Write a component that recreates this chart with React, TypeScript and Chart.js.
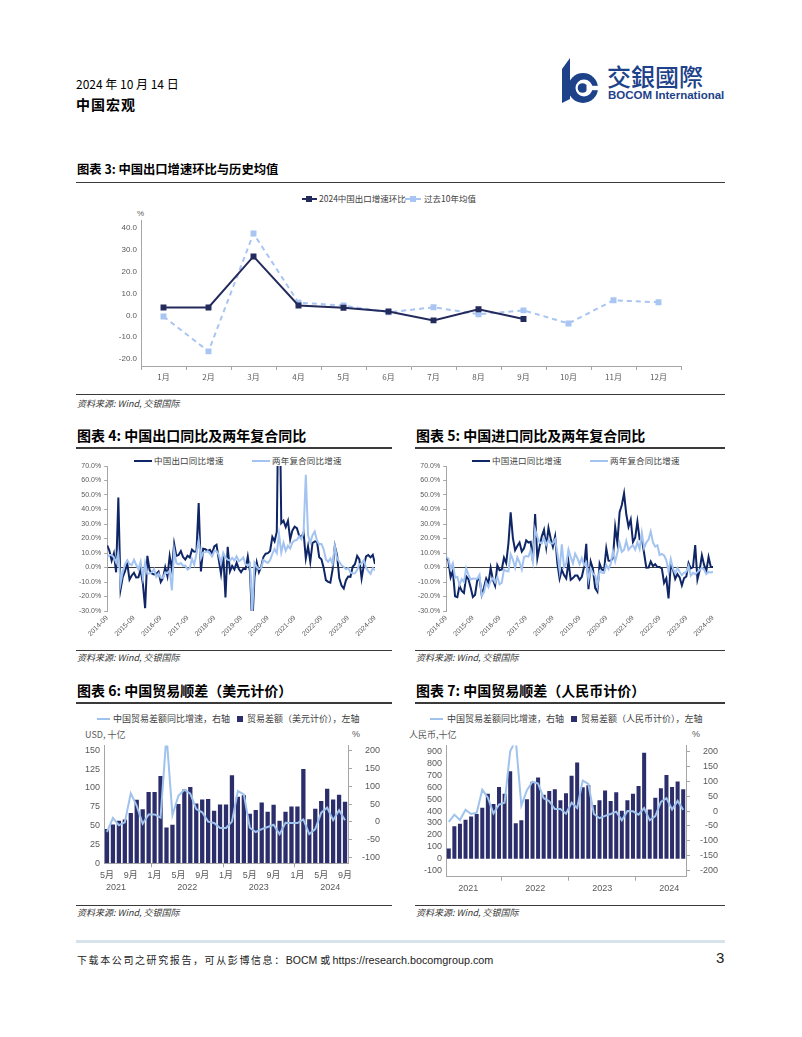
import React, { useEffect, useRef } from 'react';
import { Chart, registerables } from 'chart.js';

Chart.register(...registerables);

const CJK = "'Noto Sans CJK SC', 'Noto Sans', sans-serif";
const NUM = "'Liberation Sans', 'Noto Sans CJK SC', sans-serif";
Chart.defaults.font.family = CJK;

// ---------- colours ----------
const C3_DARK = '#232a5c';
const C3_LIGHT = '#a9c5f2';
const YOY_DARK = '#0e2566';
const YOY_LIGHT = '#a3c3f0';
const BAR_NAVY = '#2b2e6b';
const LINE_BLUE = '#9fc3ec';
const AXIS_GREY = '#a6a6a6';
const TICK_GREY = '#595959';
const LOGO_BLUE = '#1d4289';

// ---------- helpers ----------
const monthCategories = (startYear: number, startMonth: number, count: number): string[] => {
  const out: string[] = [];
  for (let i = 0; i < count; i++) {
    const t = startYear * 12 + (startMonth - 1) + i;
    const y = Math.floor(t / 12);
    const m = (t % 12) + 1;
    out.push(`${y}-${String(m).padStart(2, '0')}`);
  }
  return out;
};

// ========== 图表 3 ==========
const CH3_CATEGORIES = ['1月', '2月', '3月', '4月', '5月', '6月', '7月', '8月', '9月', '10月', '11月', '12月'];
const CH3_EXPORT_MOM_2024 = [3.6, 3.6, 27.0, 4.5, 3.5, 1.8, -2.3, 2.8, -1.7];
const CH3_EXPORT_MOM_10Y_AVG = [-0.5, -16.5, 37.5, 5.8, 4.5, 1.4, 3.7, 0.5, 2.3, -3.7, 6.9, 6.0];
const CH3_Y_TICKS = [-20, -10, 0, 10, 20, 30, 40];

// ========== 图表 4 / 5 ==========
const YOY_CATEGORIES = monthCategories(2014, 9, 121);
const YOY_X_TICK_LABELS = ['2014-09', '2015-09', '2016-09', '2017-09', '2018-09', '2019-09', '2020-09', '2021-09', '2022-09', '2023-09', '2024-09'];
const YOY_Y_TICKS = [-30, -20, -10, 0, 10, 20, 30, 40, 50, 60, 70];

const CH4_EXPORT_YOY = [
  15.3, 11.6, 4.7, 9.7,
  -3.3, 48.3, -15.0, -6.4, -2.5, 2.8, -8.3, -5.5, -3.7, -6.9, -6.8, -1.4,
  -11.2, -28.0, 8.0, -1.8, -4.1, -4.8, -4.4, -2.8, -10.0, -7.3, 0.1, -6.1,
  7.9, -1.3, 16.4, 8.0, 8.7, 11.3, 7.2, 5.5, 8.1, 6.9, 12.3, 10.9,
  11.1, 44.5, -2.7, 12.9, 12.6, 11.3, 12.2, 9.8, 14.5, 15.6, 5.4, -4.4,
  9.1, -20.7, 14.2, -2.7, 1.1, -1.3, 3.3, -1.0, -3.2, -0.9, -1.1, 7.6,
  -3.0, -40.6, -6.6, 3.5, -3.3, 0.5, 7.2, 9.5, 9.9, 11.4, 21.1, 18.1,
  24.7, 154.9, 30.6, 32.3, 27.9, 32.2, 19.3, 25.6, 28.1, 27.1, 22.0, 20.9,
  24.1, 6.2, 14.7, 3.9, 16.9, 17.9, 18.0, 7.1, 5.7, -0.3, -8.7, -9.9,
  -10.5, -1.3, 14.8, 8.5, -7.5, -12.4, -14.5, -8.8, -6.2, -6.4, 0.5, 2.3,
  8.0, 5.6, -7.5, 1.5, 7.6, 8.6, 7.0, 8.7, 2.4,
];
const CH4_EXPORT_2Y_CAGR = [
  7.2, 8.6, 8.6, 7.0,
  3.4, 10.2, -10.9, -2.8, 2.1, 5.0, 2.5, 1.7, 5.3, 1.9, -1.2, 4.0,
  -7.3, 3.3, -4.2, -4.1, -3.3, -1.1, -6.4, -4.2, -6.9, -7.1, -3.4, -3.8,
  -2.1, -15.7, 12.1, 3.0, 2.1, 3.0, 1.2, 1.3, -1.4, -0.5, 6.0, 2.0,
  9.5, 19.0, 6.4, 10.4, 10.6, 11.3, 9.7, 7.6, 11.3, 11.2, 8.8, 2.9,
  10.1, 7.0, 5.4, 4.8, 6.7, 4.8, 7.7, 4.3, 5.3, 7.0, 2.1, 1.4,
  2.8, -31.4, 3.2, 0.4, -1.1, -0.4, 5.2, 4.1, 3.1, 5.1, 9.4, 12.7,
  10.0, 23.0, 10.4, 17.0, 11.5, 15.1, 13.1, 17.3, 18.6, 19.0, 21.5, 19.5,
  24.4, 63.9, 22.4, 17.2, 22.3, 24.8, 18.6, 16.0, 16.3, 12.5, 5.5, 3.9,
  6.2, 2.4, 14.7, 6.2, 4.0, 1.6, 0.4, -1.2, -0.4, -3.4, -4.2, -4.0,
  -1.7, 2.1, 3.0, 5.0, -0.3, -2.5, -4.3, -0.4, -2.0,
];
const CH5_IMPORT_YOY = [
  7.0, 4.6, -6.7, -2.4,
  -19.9, -20.5, -12.7, -16.2, -17.6, -6.1, -8.1, -13.8, -20.4, -18.8, -8.7, -7.6,
  -18.8, -13.8, -7.6, -10.9, -0.4, -8.4, -12.5, 1.5, -1.9, -1.4, 6.7, 3.1,
  16.7, 38.1, 20.3, 11.9, 14.8, 17.2, 11.0, 13.3, 18.7, 17.2, 17.7, 4.5,
  36.9, 6.3, 14.4, 21.5, 26.0, 14.1, 27.3, 20.0, 14.3, 21.4, 3.0, -7.6,
  -1.5, -5.2, -7.6, 4.0, -8.5, -7.3, -5.6, -5.6, -8.5, -6.4, 0.3, 16.3,
  -15.0, 4.0, -0.9, -14.2, -16.7, 2.7, -1.4, -2.1, 13.2, 4.7, 4.5, 6.5,
  28.0, 17.0, 38.1, 43.1, 51.1, 36.7, 28.1, 33.1, 17.6, 20.6, 31.7, 19.5,
  20.0, 10.0, -0.1, 0.0, 4.1, 1.0, 2.3, 0.3, 0.3, -0.7, -10.6, -7.5,
  -21.3, 2.0, -1.4, -7.9, -4.5, -6.8, -12.4, -7.3, -6.2, 3.0, -0.6, 0.2,
  15.5, -8.2, -1.9, 8.4, 1.8, -2.3, 7.2, 0.5, 0.3,
];
const CH5_IMPORT_2Y_CAGR = [
  7.2, 6.1, -0.9, 2.8,
  -7.1, -6.4, -12.0, -8.1, -9.9, -0.5, -4.9, -8.3, -7.6, -7.8, -7.7, -5.0,
  -19.4, -17.2, -10.2, -13.6, -9.4, -7.3, -10.3, -6.4, -11.6, -10.5, -1.3, -2.4,
  -2.6, 9.1, 5.4, -0.2, 6.9, 3.6, -1.4, 7.2, 7.9, 7.5, 12.0, 3.8,
  26.3, 20.9, 17.3, 16.6, 20.2, 15.6, 18.8, 16.6, 16.5, 19.3, 10.1, -1.7,
  15.9, 0.4, 2.8, 12.4, 7.3, 2.8, 9.5, 6.4, 2.3, 6.5, 1.6, 3.6,
  -8.5, -0.7, -4.3, -5.5, -12.7, -2.4, -3.5, -3.9, 1.8, -1.0, 2.4, 11.3,
  4.2, 10.3, 16.9, 10.8, 12.2, 18.3, 12.2, 14.0, 15.4, 12.3, 17.2, 12.8,
  23.9, 13.5, 17.2, 19.2, 24.8, 17.3, 14.4, 15.3, 8.6, 9.4, 8.3, 5.1,
  -2.8, 5.9, -0.8, -4.0, -0.3, -2.9, -5.3, -3.5, -3.0, 1.1, -5.7, -3.7,
  -4.6, -3.2, -1.7, -0.1, -1.4, -4.6, -3.1, -3.4, -3.0,
];

// ========== 图表 6 ==========
const CH6_CATEGORIES = monthCategories(2021, 5, 41);
const CH6_BALANCE_USD = [
  45.5, 51.5, 56.6, 58.3, 66.8, 84.5, 71.7, 94.5,
  94.5, 115.9, 47.4, 51.1, 78.8, 97.9, 101.3, 79.4, 84.7, 85.2, 69.8, 78.0,
  78.0, 116.9, 88.2, 90.2, 65.8, 70.6, 80.6, 68.4, 77.7, 56.5, 68.4, 75.3,
  75.3, 125.2, 58.6, 72.4, 82.6, 99.1, 84.7, 91.0, 81.7,
];
const CH6_BALANCE_USD_YOY = [
  -28, 11, -9, -1, 80, 45, -5, 21,
  21, 12, 243, 19, 73, 90, 79, 36, 27, 1, -3, -17,
  -17, 1, 86, 77, -16, -28, -20, -14, -8, -34, -2, -3,
  -3, 7, -34, -20, 26, 40, 5, 33, 5,
];
const CH6_LEFT_TICKS = [0, 25, 50, 75, 100, 125, 150];
const CH6_RIGHT_TICKS = [-100, -50, 0, 50, 100, 150, 200];
const CH6_YEARS = ['2021', '2022', '2023', '2024'];

// ========== 图表 7 ==========
const CH7_CATEGORIES = monthCategories(2021, 3, 43);
const CH7_BALANCE_RMB = [
  87, 272, 294, 327, 354, 376, 428, 545, 460, 602,
  545, 733, 297, 322, 499, 646, 681, 537, 569, 583, 490, 550,
  695, 806, 599, 616, 450, 490, 572, 485, 558, 403, 490, 545,
  610, 888, 414, 512, 590, 703, 601, 648, 583,
];
const CH7_BALANCE_RMB_YOY = [
  -36, -12, -30, 4, -10, -6, 72, 45, -8, 22,
  28, 200, 238, 18, 70, 98, 92, 43, 33, 7, 7, -9,
  28, 10, 102, 91, -10, -24, -16, -10, -2, -31, 0, -1,
  -12, 10, -31, -17, 31, 43, 5, 34, 4,
];
const CH7_LEFT_TICKS = [-100, 0, 100, 200, 300, 400, 500, 600, 700, 800, 900];
const CH7_RIGHT_TICKS = [-200, -150, -100, -50, 0, 50, 100, 150, 200];
const CH7_YEARS = ['2021', '2022', '2023', '2024'];

// ---------- chart builders ----------
const setTicks = (values: number[]) => (axis: any) => {
  axis.ticks = values.map((v) => ({ value: v }));
};
const setWidth = (w: number) => (axis: any) => {
  axis.width = w;
};
const setHeight = (h: number) => (axis: any) => {
  axis.height = h;
};
const baseOptions = (padding: any) => ({
  animation: false,
  responsive: false,
  maintainAspectRatio: false,
  layout: { padding },
  plugins: { legend: { display: false }, tooltip: { enabled: false }, title: { display: false } },
});

const yearRowPlugin = (years: string[], y: number) => ({
  id: 'yearRow',
  afterDraw(chart: any) {
    const xs = chart.scales.x;
    const labels = chart.data.labels as string[];
    const ctx = chart.ctx;
    ctx.save();
    ctx.font = `9px ${NUM}`;
    ctx.fillStyle = TICK_GREY;
    ctx.textAlign = 'center';
    ctx.textBaseline = 'middle';
    years.forEach((yr) => {
      const i = labels.indexOf(`${yr}-06`);
      if (i >= 0) ctx.fillText(yr, xs.getPixelForValue(i + 0.5), y);
    });
    ctx.restore();
  },
});

const buildChart3 = () => ({
  type: 'line',
  data: {
    labels: CH3_CATEGORIES,
    datasets: [
      {
        label: '2024中国出口增速环比',
        data: CH3_EXPORT_MOM_2024,
        borderColor: C3_DARK,
        backgroundColor: C3_DARK,
        borderWidth: 2,
        pointStyle: 'rect',
        pointRadius: 4.2,
        pointBackgroundColor: C3_DARK,
        pointBorderColor: C3_DARK,
        pointBorderWidth: 0,
      },
      {
        label: '过去10年均值',
        data: CH3_EXPORT_MOM_10Y_AVG,
        borderColor: C3_LIGHT,
        backgroundColor: C3_LIGHT,
        borderDash: [5, 4],
        borderWidth: 2,
        pointStyle: 'rect',
        pointRadius: 4.2,
        pointBackgroundColor: C3_LIGHT,
        pointBorderColor: C3_LIGHT,
        pointBorderWidth: 0,
      },
    ],
  },
  options: {
    ...baseOptions({ top: 34, right: 45, left: 0, bottom: 0 }),
    scales: {
      x: {
        offset: true,
        grid: { display: true, offset: true, drawOnChartArea: false, drawTicks: true, tickLength: 4, color: AXIS_GREY },
        border: { display: true, color: AXIS_GREY },
        ticks: { padding: 2, maxRotation: 0, minRotation: 0, autoSkip: false, font: { size: 8, family: CJK }, color: TICK_GREY },
        afterFit: setHeight(24),
      },
      y: {
        min: -23.2,
        max: 43.7,
        afterBuildTicks: setTicks(CH3_Y_TICKS),
        afterFit: setWidth(65),
        grid: { display: false, drawTicks: false },
        border: { display: true, color: AXIS_GREY },
        ticks: { autoSkip: false, padding: 4, font: { size: 8, family: NUM }, color: TICK_GREY, callback: (v: any) => Number(v).toFixed(1) },
      },
    },
  },
});

const buildYoy = (darkData: number[], lightData: number[], rightPad: number) => () => ({
  type: 'line',
  data: {
    labels: YOY_CATEGORIES,
    datasets: [
      { data: darkData, borderColor: YOY_DARK, borderWidth: 2, pointRadius: 0, order: 2, clip: 0, tension: 0 },
      { data: lightData, borderColor: YOY_LIGHT, borderWidth: 2, pointRadius: 0, order: 1, clip: 0, tension: 0 },
    ],
  },
  options: {
    ...baseOptions({ top: 14, right: rightPad, left: 0, bottom: 0 }),
    scales: {
      x: {
        offset: false,
        grid: { display: false, drawTicks: false },
        border: { display: false },
        ticks: {
          autoSkip: false,
          maxRotation: 45,
          minRotation: 45,
          padding: 3,
          font: { size: 7, family: NUM },
          color: TICK_GREY,
          callback: (_v: any, i: number) => (YOY_X_TICK_LABELS.includes(YOY_CATEGORIES[i]) ? YOY_CATEGORIES[i] : ''),
        },
        afterFit: setHeight(36),
      },
      y: {
        min: -30,
        max: 70,
        afterBuildTicks: setTicks(YOY_Y_TICKS),
        grid: {
          display: true,
          drawOnChartArea: true,
          drawTicks: true,
          tickLength: 3,
          tickColor: AXIS_GREY,
          lineWidth: 1,
          color: (c: any) => (c.tick && c.tick.value === 0 ? '#3c3c3c' : 'rgba(0,0,0,0)'),
        },
        border: { display: true, color: AXIS_GREY },
        ticks: { autoSkip: false, padding: 3, font: { size: 7, family: NUM }, color: TICK_GREY, callback: (v: any) => Number(v).toFixed(1) + '%' },
      },
    },
  },
});

const buildBalance = (cfg: any) => () => {
  const janIdx = cfg.labels.map((l: string, i: number) => (l.endsWith('-01') ? i : -1)).filter((i: number) => i >= 0);
  return {
    type: 'bar',
    data: {
      labels: cfg.labels,
      datasets: [
        { type: 'line', data: cfg.yoy, yAxisID: 'y1', borderColor: LINE_BLUE, borderWidth: 2, pointRadius: 0, order: 1, clip: 0, tension: 0 },
        { type: 'bar', data: cfg.bars, yAxisID: 'y', backgroundColor: BAR_NAVY, barPercentage: 0.72, categoryPercentage: 1, order: 2 },
      ],
    },
    options: {
      ...baseOptions({ top: cfg.padTop, right: cfg.padRight, left: 0, bottom: 0 }),
      scales: {
        x: {
          offset: true,
          grid: {
            display: true,
            offset: true,
            drawOnChartArea: false,
            drawTicks: true,
            tickLength: 4,
            color: (c: any) => (janIdx.includes(c.index) ? AXIS_GREY : 'rgba(0,0,0,0)'),
          },
          border: { display: true, color: AXIS_GREY },
          ticks: {
            autoSkip: false,
            maxRotation: 0,
            minRotation: 0,
            padding: 3,
            font: { size: 9, family: NUM },
            color: TICK_GREY,
            callback: (_v: any, i: number) =>
              cfg.showMonths && i % 4 === 0 ? `${parseInt(cfg.labels[i].split('-')[1], 10)}月` : '',
          },
          afterFit: setHeight(cfg.xHeight),
        },
        y: {
          position: 'left',
          min: cfg.leftMin,
          max: cfg.leftMax,
          afterBuildTicks: setTicks(cfg.leftTicks),
          afterFit: setWidth(cfg.leftWidth),
          grid: { display: false, drawTicks: false },
          border: { display: true, color: AXIS_GREY },
          ticks: { autoSkip: false, padding: 4, font: { size: 9, family: NUM }, color: TICK_GREY },
        },
        y1: {
          position: 'right',
          min: cfg.rightMin,
          max: cfg.rightMax,
          afterBuildTicks: setTicks(cfg.rightTicks),
          afterFit: setWidth(32),
          grid: { display: true, drawOnChartArea: false, drawTicks: true, tickLength: 4, color: AXIS_GREY },
          border: { display: true, color: AXIS_GREY },
          ticks: { autoSkip: false, padding: 4, crossAlign: 'far', font: { size: 9, family: NUM }, color: TICK_GREY },
        },
      },
    },
    plugins: [yearRowPlugin(cfg.years, cfg.yearY)],
  };
};

const buildChart6 = buildBalance({
  labels: CH6_CATEGORIES,
  bars: CH6_BALANCE_USD,
  yoy: CH6_BALANCE_USD_YOY,
  leftTicks: CH6_LEFT_TICKS,
  rightTicks: CH6_RIGHT_TICKS,
  leftMin: 0,
  leftMax: 156.5,
  rightMin: -115.4,
  rightMax: 213.7,
  leftWidth: 28,
  padTop: 7.3,
  padRight: 12,
  xHeight: 32.7,
  showMonths: true,
  years: CH6_YEARS,
  yearY: 152,
});

const buildChart7 = buildBalance({
  labels: CH7_CATEGORIES,
  bars: CH7_BALANCE_RMB,
  yoy: CH7_BALANCE_RMB_YOY,
  leftTicks: CH7_LEFT_TICKS,
  rightTicks: CH7_RIGHT_TICKS,
  leftMin: -150,
  leftMax: 950,
  rightMin: -220,
  rightMax: 220,
  leftWidth: 31,
  padTop: 6,
  padRight: 13,
  xHeight: 19.3,
  showMonths: false,
  years: CH7_YEARS,
  yearY: 152.5,
});

// ---------- components ----------
function ChartBox({ left, top, width, height, build }: any) {
  const ref = useRef<HTMLCanvasElement | null>(null);
  useEffect(() => {
    if (!ref.current) return;
    const chart = new Chart(ref.current, build());
    return () => chart.destroy();
  }, []);
  return (
    <div style={{ position: 'absolute', left, top, width, height }}>
      <canvas ref={ref} width={width} height={height} style={{ display: 'block', width, height }} />
    </div>
  );
}

function Txt({ x, cy, size, children, weight = 400, color = '#000', family = CJK, italic = false, spacing = 0 }: any) {
  return (
    <div
      style={{
        position: 'absolute',
        left: x,
        top: cy - size * 0.55,
        fontSize: size,
        lineHeight: 1,
        fontFamily: family,
        fontWeight: weight,
        color,
        fontStyle: italic ? 'italic' : 'normal',
        letterSpacing: spacing,
        whiteSpace: 'nowrap',
      }}
    >
      {children}
    </div>
  );
}

function Rule({ x, y, w, h = 1.5, color = '#3a3a3a' }: any) {
  return <div style={{ position: 'absolute', left: x, top: y, width: w, height: h, background: color }} />;
}

function LineKey({ x, cy, w, color, h = 2.5 }: any) {
  return <div style={{ position: 'absolute', left: x, top: cy - h / 2, width: w, height: h, background: color }} />;
}

function SquareKey({ x, cy, s, color }: any) {
  return <div style={{ position: 'absolute', left: x, top: cy - s / 2, width: s, height: s, background: color }} />;
}

function DashKey({ x, cy, w, color }: any) {
  return <div style={{ position: 'absolute', left: x, top: cy - 1, width: w, height: 0, borderTop: `2px dashed ${color}` }} />;
}

export default function App() {
  const legendColor = '#404040';
  return (
    <div style={{ position: 'absolute', left: 0, top: 0, width: 802, height: 1037, background: '#fff', overflow: 'hidden' }}>
      {/* header */}
      <Txt x={76} cy={85} size={12}>2024 年 10 月 14 日</Txt>
      <Txt x={76} cy={105} size={14} weight={700} spacing={1}>中国宏观</Txt>
      <svg width={44} height={50} viewBox="0 0 44 50" style={{ position: 'absolute', left: 556, top: 55 }}>
        <path d="M6 14 L14 3 L14 44 L6 48 Z" fill={LOGO_BLUE} />
        <circle cx={27} cy={33} r={15} fill={LOGO_BLUE} />
        <circle cx={28} cy={33} r={8.5} fill="#fff" />
        <circle cx={26.5} cy={33} r={4.8} fill={LOGO_BLUE} />
        <rect x={30.5} y={30.8} width={14} height={4.4} fill="#fff" />
      </svg>
      <Txt x={607} cy={77} size={24} color={LOGO_BLUE} family="'Noto Sans CJK TC', 'Noto Sans CJK SC', sans-serif" weight={500}>交銀國際</Txt>
      <Txt x={608} cy={96} size={11.5} color={LOGO_BLUE} family={NUM} weight={700}>BOCOM International</Txt>

      {/* ===== chart 3 ===== */}
      <Txt x={77} cy={170} size={12.3} weight={700}>图表 3: 中国出口增速环比与历史均值</Txt>
      <Rule x={76} y={181.5} w={649} />
      <LineKey x={302} cy={199} w={15} color={C3_DARK} h={2} />
      <SquareKey x={306} cy={199} s={6} color={C3_DARK} />
      <Txt x={319} cy={199} size={8.5} color={legendColor}>2024中国出口增速环比</Txt>
      <DashKey x={405} cy={199} w={16} color={C3_LIGHT} />
      <SquareKey x={410} cy={199} s={6} color={C3_LIGHT} />
      <Txt x={424} cy={199} size={8.5} color={legendColor}>过去10年均值</Txt>
      <Txt x={137} cy={214} size={8} color={TICK_GREY} family={NUM}>%</Txt>
      <ChartBox left={76} top={186} width={650} height={204} build={buildChart3} />
      <Rule x={76} y={393.5} w={649} />
      <Txt x={77} cy={404} size={9} italic color="#333">资料来源: Wind, 交银国际</Txt>

      {/* ===== chart 4 ===== */}
      <Txt x={77} cy={436} size={14} weight={700}>图表 4: 中国出口同比及两年复合同比</Txt>
      <Rule x={76} y={447} w={316} />
      <LineKey x={134} cy={461} w={18} color={YOY_DARK} />
      <Txt x={154} cy={461} size={8.5} color={legendColor} spacing={0.2}>中国出口同比增速</Txt>
      <LineKey x={252} cy={461} w={18} color={YOY_LIGHT} />
      <Txt x={272} cy={461} size={8.5} color={legendColor} spacing={0.2}>两年复合同比增速</Txt>
      <ChartBox left={76} top={452} width={316} height={195} build={buildYoy(CH4_EXPORT_YOY, CH4_EXPORT_2Y_CAGR, 17)} />
      <Rule x={76} y={649.5} w={316} />
      <Txt x={77} cy={657.5} size={9} italic color="#333">资料来源: Wind, 交银国际</Txt>

      {/* ===== chart 5 ===== */}
      <Txt x={416} cy={436} size={14} weight={700}>图表 5: 中国进口同比及两年复合同比</Txt>
      <Rule x={415} y={447} w={310} />
      <LineKey x={472} cy={461} w={18} color={YOY_DARK} />
      <Txt x={492} cy={461} size={8.5} color={legendColor} spacing={0.2}>中国进口同比增速</Txt>
      <LineKey x={590} cy={461} w={18} color={YOY_LIGHT} />
      <Txt x={610} cy={461} size={8.5} color={legendColor} spacing={0.2}>两年复合同比增速</Txt>
      <ChartBox left={415} top={452} width={316} height={195} build={buildYoy(CH5_IMPORT_YOY, CH5_IMPORT_2Y_CAGR, 18)} />
      <Rule x={415} y={649.5} w={310} />
      <Txt x={416} cy={657.5} size={9} italic color="#333">资料来源: Wind, 交银国际</Txt>

      {/* ===== chart 6 ===== */}
      <Txt x={77} cy={691} size={14} weight={700}>图表 6: 中国贸易顺差（美元计价）</Txt>
      <Rule x={76} y={702} w={316} />
      <LineKey x={97} cy={719} w={13} color={LINE_BLUE} h={2} />
      <Txt x={113} cy={719} size={9} color={legendColor}>中国贸易差额同比增速，右轴</Txt>
      <SquareKey x={237} cy={719} s={6} color={BAR_NAVY} />
      <Txt x={247} cy={719} size={9} color={legendColor}>贸易差额（美元计价），左轴</Txt>
      <Txt x={85} cy={735} size={9} color={TICK_GREY}>USD, 十亿</Txt>
      <Txt x={352} cy={735} size={9} color={TICK_GREY} family={NUM}>%</Txt>
      <ChartBox left={76} top={736} width={316} height={160} build={buildChart6} />
      <Rule x={76} y={904.5} w={316} />
      <Txt x={77} cy={913} size={9} italic color="#333">资料来源: Wind, 交银国际</Txt>

      {/* ===== chart 7 ===== */}
      <Txt x={416} cy={691} size={14} weight={700}>图表 7: 中国贸易顺差（人民币计价）</Txt>
      <Rule x={415} y={702} w={310} />
      <LineKey x={430} cy={719} w={13} color={LINE_BLUE} h={2} />
      <Txt x={447} cy={719} size={9} color={legendColor}>中国贸易差额同比增速，右轴</Txt>
      <SquareKey x={571} cy={719} s={6} color={BAR_NAVY} />
      <Txt x={581} cy={719} size={9} color={legendColor}>贸易差额（人民币计价），左轴</Txt>
      <Txt x={409} cy={735} size={9} color={TICK_GREY}>人民币,十亿</Txt>
      <Txt x={692} cy={735} size={9} color={TICK_GREY} family={NUM}>%</Txt>
      <ChartBox left={415} top={736} width={316} height={160} build={buildChart7} />
      <Rule x={415} y={904.5} w={310} />
      <Txt x={416} cy={913} size={9} italic color="#333">资料来源: Wind, 交银国际</Txt>

      {/* footer */}
      <Rule x={76} y={939.5} w={649} h={3} color="#d7e3ea" />
      <div style={{ position: 'absolute', left: 77, top: 951, whiteSpace: 'nowrap', lineHeight: 1, color: '#222' }}>
        <span style={{ fontFamily: CJK, fontSize: 10, letterSpacing: 1.6 }}>下载本公司之研究报告，可从彭博信息：</span>
        <span style={{ fontFamily: NUM, fontSize: 10.5 }}>BOCM </span>
        <span style={{ fontFamily: CJK, fontSize: 10 }}> 或 </span>
        <span style={{ fontFamily: NUM, fontSize: 10.8 }}>https://research.bocomgroup.com</span>
      </div>
      <Txt x={716} cy={958} size={15} family={NUM} color="#222">3</Txt>
    </div>
  );
}
